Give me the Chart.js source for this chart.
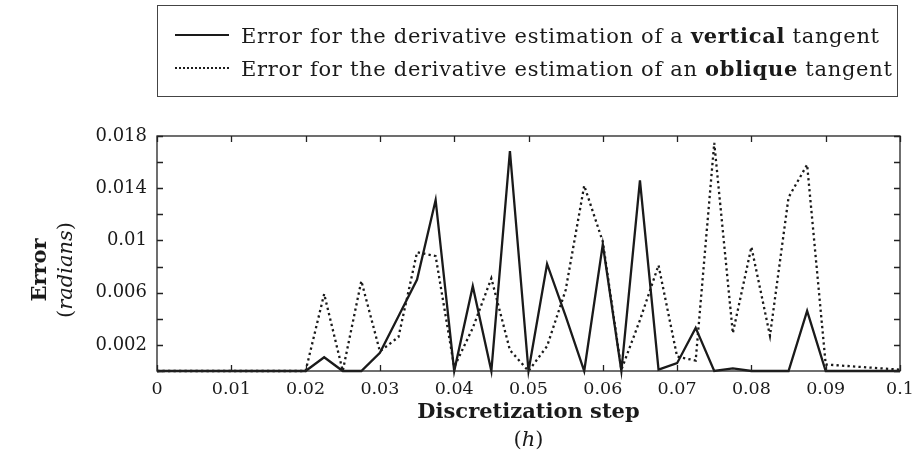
<!DOCTYPE html>
<html>
<head>
<meta charset="utf-8">
<script src="https://cdn.jsdelivr.net/npm/chart.js@4/dist/chart.umd.min.js"></script>
<style>
  html, body { margin: 0; padding: 0; background: #fff; }
  #wrap { position: relative; width: 913px; height: 474px; overflow: hidden; font-family: "DejaVu Serif", serif; color: #1a1a1a; }
  #c { position: absolute; left: 0; top: 0; }
  #legend { position: absolute; left: 157px; top: 5px; width: 741px; height: 92px; border: 1.3px solid #444; box-sizing: border-box; }
  .row { position: absolute; left: 17px; height: 26px; display: flex; align-items: center; font-size: 21px; letter-spacing: 0.7px; white-space: nowrap; }
  .sample { width: 54px; height: 0; margin-right: 12px; }
  .solid { border-top: 2.3px solid #1a1a1a; }
  .dotted { border-top: 2.3px dotted #1a1a1a; }
  #xt { position: absolute; left: 157px; width: 743px; top: 397px; text-align: center; font-size: 21px; line-height: 28px; }
  #yt { position: absolute; left: 52px; top: 270px; width: 220px; transform: translate(-50%, -50%) rotate(-90deg); text-align: center; font-size: 21px; line-height: 26px; }
  b { font-weight: bold; }
</style>
</head>
<body>
<div id="wrap">
  <canvas id="c" width="913" height="474"></canvas>
  <div id="legend">
    <div class="row" style="top:16px"><span class="sample solid"></span><span>Error for the derivative estimation of a <b>vertical</b> tangent</span></div>
    <div class="row" style="top:49px"><span class="sample dotted"></span><span>Error for the derivative estimation of an <b>oblique</b> tangent</span></div>
  </div>
  <div id="xt"><b>Discretization step</b><br>(<i>h</i>)</div>
  <div id="yt"><b>Error</b><br>(<i>radians</i>)</div>
</div>
<script>
const stepH = [0, 0.0025, 0.005, 0.0075, 0.01, 0.0125, 0.015, 0.0175, 0.02, 0.0225,
  0.025, 0.0275, 0.03, 0.0325, 0.035, 0.0375, 0.04, 0.0425, 0.045, 0.0475,
  0.05, 0.0525, 0.055, 0.0575, 0.06, 0.0625, 0.065, 0.0675, 0.07, 0.0725,
  0.075, 0.0775, 0.08, 0.0825, 0.085, 0.0875, 0.09, 0.0925, 0.095, 0.0975, 0.1];

const verticalError = [0, 0, 0, 0, 0, 0, 0, 0, 0, 0.00105,
  0, 0, 0.0014, 0.0042, 0.0070, 0.0131, 0, 0.0065, 0, 0.01685,
  0, 0.0082, 0.0042, 0, 0.0097, 0, 0.0146, 0.0001, 0.0006, 0.0033,
  0, 0.0002, 0, 0, 0, 0.0046, 0, 0, 0, 0, 0];

const obliqueError = [0, 0, 0, 0, 0, 0, 0, 0, 0, 0.0059,
  0, 0.0069, 0.0015, 0.0026, 0.0091, 0.0088, 0.0003, 0.0033, 0.0071, 0.0016,
  0, 0.0019, 0.0062, 0.0142, 0.0099, 0.0001, 0.0039, 0.0081, 0.0011, 0.0008,
  0.01747, 0.0029, 0.0095, 0.0027, 0.0133, 0.0158, 0.0005, 0.0004, 0.0003, 0.0002, 0.0001];

const xTickLabels = ['0', '0.01', '0.02', '0.03', '0.04', '0.05', '0.06', '0.07', '0.08', '0.09', '0.1'];
const yTickLabels = ['0.002', '0.006', '0.01', '0.014', '0.018'];

const toXY = arr => arr.map((v, i) => ({ x: stepH[i], y: v }));

const frameTicks = {
  id: 'frameTicks',
  afterDatasetsDraw(chart) {
    const { ctx, chartArea: a, scales: { x, y } } = chart;
    ctx.save();
    ctx.strokeStyle = '#222';
    ctx.lineWidth = 1.3;
    ctx.strokeRect(a.left, a.top, a.right - a.left, a.bottom - a.top);
    const L = 6;
    ctx.beginPath();
    x.ticks.forEach(t => {
      const px = Math.round(x.getPixelForValue(t.value)) + 0.5;
      ctx.moveTo(px, a.bottom); ctx.lineTo(px, a.bottom - L);
      ctx.moveTo(px, a.top); ctx.lineTo(px, a.top + L);
    });
    y.ticks.forEach(t => {
      const py = Math.round(y.getPixelForValue(t.value)) + 0.5;
      ctx.moveTo(a.left, py); ctx.lineTo(a.left + L, py);
      ctx.moveTo(a.right, py); ctx.lineTo(a.right - L, py);
    });
    ctx.stroke();
    ctx.restore();
  }
};

new Chart(document.getElementById('c'), {
  type: 'line',
  data: {
    datasets: [
      { label: 'vertical', data: toXY(verticalError), borderColor: '#1a1a1a', borderWidth: 2.3, pointRadius: 0, tension: 0, clip: false },
      { label: 'oblique', data: toXY(obliqueError), borderColor: '#1a1a1a', borderWidth: 2.3, borderDash: [2.3, 3.2], pointRadius: 0, tension: 0, clip: false }
    ]
  },
  options: {
    responsive: false,
    animation: false,
    devicePixelRatio: 1,
    layout: { padding: { top: 136, right: 13, left: 0, bottom: 0 } },
    plugins: { legend: { display: false }, tooltip: { enabled: false } },
    scales: {
      x: {
        type: 'linear', min: 0, max: 0.1,
        grid: { display: false, drawTicks: false },
        border: { display: false },
        ticks: {
          stepSize: 0.01, autoSkip: false, maxRotation: 0, padding: 8,
          color: '#1a1a1a', font: { family: 'DejaVu Serif', size: 17.5 },
          callback: (v, i) => xTickLabels[i]
        },
        afterFit: s => { s.height = 103; s.paddingLeft = 0; s.paddingRight = 0; }
      },
      y: {
        type: 'linear', min: 0, max: 0.018,
        grid: { display: false, drawTicks: false },
        border: { display: false },
        ticks: {
          stepSize: 0.002, autoSkip: false, padding: 10,
          color: '#1a1a1a', font: { family: 'DejaVu Serif', size: 18 },
          callback: (v, i) => (i % 2 === 1 ? yTickLabels[(i - 1) / 2] : '')
        },
        afterFit: s => { s.width = 157; s.paddingTop = 0; s.paddingBottom = 0; }
      }
    }
  },
  plugins: [frameTicks]
});
</script>
</body>
</html>
